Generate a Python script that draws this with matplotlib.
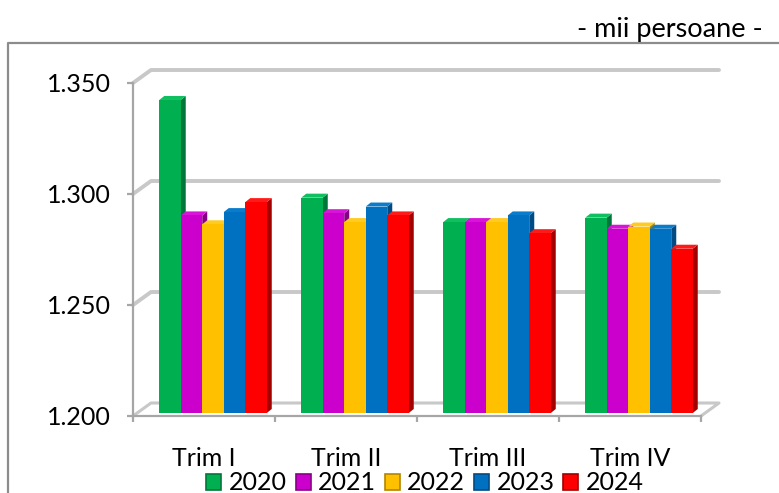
import matplotlib
matplotlib.use('Agg')
import matplotlib.pyplot as plt
from matplotlib.patches import Rectangle
from matplotlib.lines import Line2D
from matplotlib.transforms import ScaledTranslation

# ---------------- data ----------------
categories = ['Trim I', 'Trim II', 'Trim III', 'Trim IV']
years = ['2020', '2021', '2022', '2023', '2024']
v2020 = [1341, 1297, 1286, 1288]
v2021 = [1289, 1290, 1286, 1283]
v2022 = [1285, 1286, 1286, 1284]
v2023 = [1290.5, 1293, 1289, 1283]
v2024 = [1295, 1289, 1281, 1274]
yticks = [1200, 1250, 1300, 1350]
ytick_labels = ['1.200', '1.250', '1.300', '1.350']
unit_label = '- mii persoane -'

series = [v2020, v2021, v2022, v2023, v2024]
face = ['#00B050', '#CC00CC', '#FFC000', '#0070C0', '#FF0000']
side = ['#00773A', '#880088', '#B38600', '#004B83', '#A30000']
topc = ['#10C060', '#D814D8', '#FFCB20', '#0A7CCC', '#FF1A1A']

plt.rcParams['font.family'] = ['Lato', 'DejaVu Sans']
FS = 18

W, H = 779, 493
fig = plt.figure(figsize=(W / 100, H / 100), dpi=100)
L, R, B, T = 133, 701, 416, 83
ax = fig.add_axes([L / W, 1 - B / H, (R - L) / W, (B - T) / H])
ax.set_xlim(0, 4)
ax.set_ylim(1200, 1350)
pxx = (R - L) / 4.0
pxy = (B - T) / 150.0

grid_col = '#c8c8c8'
# back wall depth
bx, by = 18 / pxx, 13 / pxy
for y in yticks[1:]:
    ax.plot([0, bx, 4 + bx], [y, y + by, y + by], color=grid_col, lw=2.8,
            clip_on=False, zorder=1, solid_capstyle='round')
# floor
ax.plot([0, bx, 4 + bx, 4], [1200, 1200 + by, 1200 + by, 1200], color=grid_col,
        lw=2.2, clip_on=False, zorder=1)

# bars with faux depth
w = 21.5 / pxx
dx, dy = 5 / pxx, 4 / pxy
shift = ax.transData + ScaledTranslation(9 / 100, 3 / 100, fig.dpi_scale_trans)
z = 3
for j in range(len(categories)):
    for i, vals in enumerate(series):
        v = vals[j]
        x0 = j + 0.5 + (i - 2.5) * w
        x1 = x0 + w
        ax.fill([x1, x1 + dx, x1 + dx, x1], [1200, 1200 + dy, v + dy, v],
                color=side[i], transform=shift, zorder=z, lw=0)
        ax.fill([x0, x1, x1 + dx, x0 + dx], [v, v, v + dy, v + dy],
                color=topc[i], transform=shift, zorder=z, lw=0)
        ax.bar(x0, v - 1200, bottom=1200, width=w, align='edge', color=face[i],
               transform=shift, zorder=z + 0.5, lw=0)
        z += 1

# axes styling
for s in ['top', 'right']:
    ax.spines[s].set_visible(False)
for s in ['left', 'bottom']:
    ax.spines[s].set_color('#a6a6a6')
    ax.spines[s].set_linewidth(1.6)
ax.set_yticks(yticks, ytick_labels)
ax.tick_params(axis='y', length=4, width=1.6, color='#a6a6a6', pad=12,
               labelsize=FS)
ax.set_xticks([0, 1, 2, 3, 4], ['', '', '', '', ''])
ax.tick_params(axis='x', which='major', length=4.5, width=1.6, color='#a6a6a6')
ax.set_xticks([0.5, 1.5, 2.5, 3.5], categories, minor=True)
ax.tick_params(axis='x', which='minor', length=0, pad=22, labelsize=FS)
ax.patch.set_visible(False)

# legend
handles = [Rectangle((0, 0), 1, 1, facecolor=face[i], edgecolor=side[i], lw=1.2)
           for i in range(5)]
fig.legend(handles, years, loc='center', bbox_to_anchor=(425 / W, 1 - 483 / H),
           ncol=5, frameon=False, handlelength=0.6, handleheight=0.6,
           handletextpad=0.3, columnspacing=0.35, fontsize=FS,
           borderpad=0, borderaxespad=0)

fig.text(763 / W, 1 - 37 / H, unit_label, ha='right', va='baseline', fontsize=19.5)
fig.add_artist(Line2D([8 / W, 8 / W, 1.0], [0, 1 - 43 / H, 1 - 43 / H],
                      color='#8c8c8c', lw=1.6, transform=fig.transFigure))

fig.savefig('out.png', dpi=100)
